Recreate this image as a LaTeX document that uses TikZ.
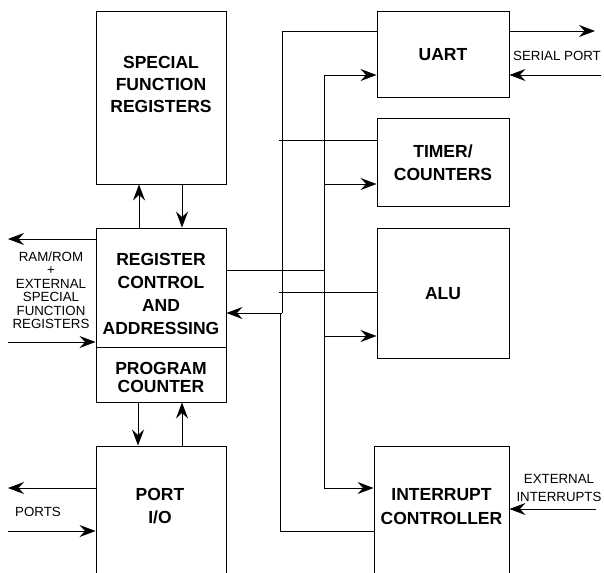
\documentclass[tikz,border=0pt]{standalone}
\usepackage{fontspec}
\setmainfont{Liberation Sans}
\usetikzlibrary{arrows.meta,calc}
\begin{document}
\begin{tikzpicture}[x=1pt,y=-1pt,
  line width=0.9pt,
  blk/.style={draw, inner sep=0pt, align=center},
  lbl/.style={inner sep=0pt, align=center, font=\fontsize{17.5}{23}\selectfont\bfseries},
  sml/.style={inner sep=0pt, align=center, font=\fontsize{13.3}{13.5}\selectfont},
  arr/.style={-{Stealth[length=16pt,width=12pt,inset=5.5pt]}}]
\clip (0,0) rectangle (604,572);
\fill[white] (0,0) rectangle (604,572);

% left column
\node[blk, minimum width=130pt, minimum height=173pt] (sfr) at (161,97.5) {};
\node[lbl, font=\fontsize{17.5}{22}\selectfont\bfseries] (sfrt) at (161,84) {SPECIAL\\FUNCTION\\REGISTERS};
\node[blk, minimum width=130pt, minimum height=119pt] (reg) at (161,287.5) {};
\node[lbl, font=\fontsize{17.5}{23.3}\selectfont\bfseries] (regt) at (161,294) {REGISTER\\CONTROL\\AND\\ADDRESSING};
\node[blk, minimum width=130pt, minimum height=55pt] (pc) at (161,374.5) {};
\node[lbl, font=\fontsize{17.5}{18}\selectfont\bfseries] (pct) at (161,377) {PROGRAM\\COUNTER};
\node[blk, minimum width=130pt, minimum height=134pt] (port) at (161,513) {};
\node[lbl] (portt) at (160,506) {PORT\\I/O};

% right column
\node[blk, minimum width=132pt, minimum height=86pt] (uart) at (443,54) {};
\node[lbl] (uartt) at (443,55) {UART};
\node[blk, minimum width=132pt, minimum height=88pt] (tmr) at (443,162) {};
\node[lbl] (tmrt) at (443,163) {TIMER/\\COUNTERS};
\node[blk, minimum width=132pt, minimum height=130pt] (alu) at (443,293) {};
\node[lbl] (alut) at (443,294) {ALU};
\node[blk, minimum width=135pt, minimum height=134pt] (intc) at (441.5,513) {};
\node[lbl, font=\fontsize{17.5}{24}\selectfont\bfseries] (intt) at (441.5,507) {INTERRUPT\\CONTROLLER};

% outside labels
\node[sml] (ramt) at (51,290) {RAM/ROM\\+\\EXTERNAL\\SPECIAL\\FUNCTION\\REGISTERS};
\node[sml] (portst) at (38,512) {PORTS};
\node[sml] (serialt) at (557,56) {SERIAL PORT};
\node[sml, font=\fontsize{13.3}{18.7}\selectfont] (extt) at (559,488) {EXTERNAL\\INTERRUPTS};

% free ends of external connectors
\coordinate (ramout) at (8,239);
\coordinate (ramin) at (8,342);
\coordinate (portout) at (8,488);
\coordinate (portin) at (8,531);
\coordinate (serout) at (595,31);
\coordinate (serin) at (601,75);
\coordinate (extin) at (596,509);

% bus corners
\coordinate (busA) at (282,313);
\coordinate (busAlow) at (280,313);
\coordinate (busBtop) at (324,75);
\coordinate (busBbot) at (324,488);

% vertical transfers in the left column
\draw[arr] (reg.north -| 139,0) -- (sfr.south -| 139,0);
\draw[arr] (sfr.south -| 182,0) -- (reg.north -| 182,0);
\draw[arr] (pc.south -| 138,0) -- (port.north -| 138,0);
\draw[arr] (port.north -| 182,0) -- (pc.south -| 182,0);

% external connections
\draw[arr] (reg.west |- ramout) -- (ramout);
\draw[arr] (ramin) -- (reg.west |- ramin);
\draw[arr] (port.west |- portout) -- (portout);
\draw[arr] (portin) -- (port.west |- portin);
\draw[arr] (uart.east |- serout) -- (serout);
\draw[arr] (serin) -- (uart.east |- serin);
\draw[arr] (extin) -- (intc.east |- extin);

% return bus into register control
\draw (uart.west |- 0,31) -| (busA);
\draw (intc.west |- 0,531) -| (busAlow);
\draw[arr] (busA) -- (reg.east |- busA);
\draw (279,140) -- (tmr.west |- 0,140);
\draw (279,292) -- (alu.west |- 0,292);

% outgoing bus from register control
\draw (reg.east |- 0,270) -- (324,270);
\draw (busBtop) -- (busBbot);
\draw[arr] (busBtop) -- (uart.west |- busBtop);
\draw[arr] (324,184) -- (tmr.west |- 0,184);
\draw[arr] (324,336) -- (alu.west |- 0,336);
\draw[arr] (busBbot) -- (intc.west |- busBbot);
\end{tikzpicture}
\end{document}
